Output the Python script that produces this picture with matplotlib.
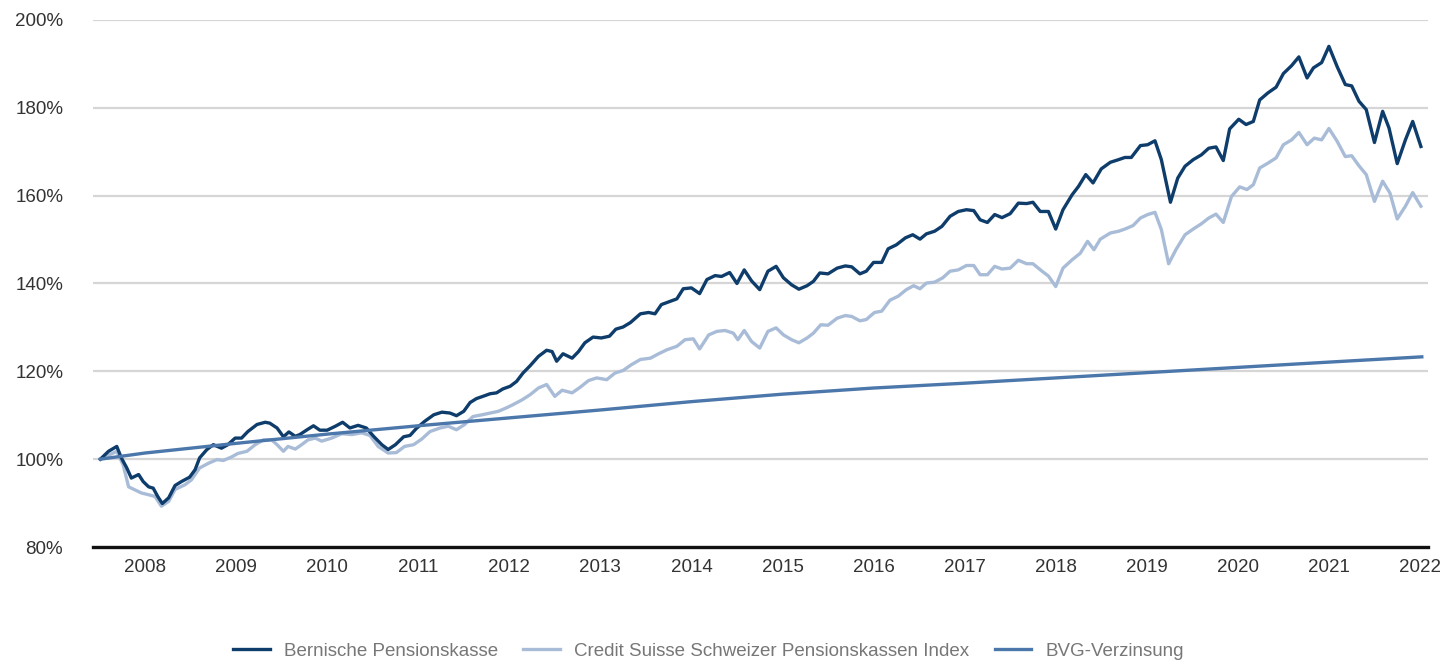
import numpy as np
import matplotlib
matplotlib.use('Agg')
import matplotlib.pyplot as plt

plt.rcParams['font.family'] = ['Liberation Sans', 'DejaVu Sans']

# time axis in fractional years (tick "2008" sits at 2008.0)
bpk_t = [2007.51, 2007.60, 2007.69, 2007.74, 2007.80, 2007.85, 2007.93, 2007.98, 2008.04, 2008.09,
         2008.14, 2008.19, 2008.26, 2008.33, 2008.40, 2008.49, 2008.55, 2008.60, 2008.68, 2008.75,
         2008.84, 2008.91, 2008.99, 2009.06, 2009.13, 2009.23, 2009.32, 2009.37, 2009.45, 2009.52,
         2009.58, 2009.65, 2009.70, 2009.78, 2009.85, 2009.92, 2010.00, 2010.09, 2010.17, 2010.25,
         2010.34, 2010.43, 2010.51, 2010.60, 2010.67, 2010.75, 2010.84, 2010.91, 2010.98, 2011.07,
         2011.17, 2011.26, 2011.35, 2011.42, 2011.50, 2011.57, 2011.64, 2011.71, 2011.79, 2011.86,
         2011.93, 2012.01, 2012.08, 2012.15, 2012.23, 2012.32, 2012.41, 2012.47, 2012.52, 2012.59,
         2012.69, 2012.76, 2012.83, 2012.92, 2013.01, 2013.10, 2013.17, 2013.25, 2013.33, 2013.44,
         2013.53, 2013.60, 2013.67, 2013.76, 2013.84, 2013.91, 2014.00, 2014.09, 2014.17, 2014.26,
         2014.33, 2014.42, 2014.50, 2014.58, 2014.66, 2014.75, 2014.84, 2014.93, 2015.01, 2015.10,
         2015.18, 2015.27, 2015.34, 2015.41, 2015.50, 2015.60, 2015.69, 2015.76, 2015.85, 2015.92,
         2016.00, 2016.09, 2016.16, 2016.25, 2016.35, 2016.43, 2016.51, 2016.58, 2016.67, 2016.75,
         2016.84, 2016.93, 2017.02, 2017.10, 2017.17, 2017.25, 2017.33, 2017.41, 2017.50, 2017.59,
         2017.68, 2017.75, 2017.83, 2017.92, 2018.00, 2018.08, 2018.18, 2018.25, 2018.33, 2018.41,
         2018.50, 2018.60, 2018.69, 2018.76, 2018.83, 2018.93, 2019.01, 2019.09, 2019.16, 2019.26,
         2019.34, 2019.42, 2019.51, 2019.60, 2019.68, 2019.76, 2019.84, 2019.91, 2020.01, 2020.09,
         2020.17, 2020.24, 2020.33, 2020.42, 2020.50, 2020.59, 2020.67, 2020.76, 2020.83, 2020.92,
         2021.00, 2021.09, 2021.18, 2021.25, 2021.33, 2021.41, 2021.50, 2021.59, 2021.66, 2021.75,
         2021.84, 2021.92, 2022.01]
bpk = [100.0, 101.8, 102.9, 100.3, 98.0, 95.7, 96.5, 94.9, 93.7, 93.4,
       91.5, 89.9, 91.2, 94.0, 94.9, 95.9, 97.6, 100.3, 102.2, 103.3,
       102.5, 103.3, 104.8, 104.8, 106.3, 107.9, 108.4, 108.2, 107.1, 105.1,
       106.2, 105.2, 105.6, 106.7, 107.6, 106.6, 106.6, 107.5, 108.4, 107.1,
       107.7, 107.1, 105.2, 103.3, 102.2, 103.3, 105.1, 105.4, 107.0, 108.6,
       110.1, 110.7, 110.5, 109.9, 110.9, 112.9, 113.8, 114.3, 114.9, 115.1,
       116.0, 116.6, 117.7, 119.6, 121.3, 123.4, 124.8, 124.5, 122.3, 124.0,
       123.0, 124.5, 126.5, 127.8, 127.6, 128.0, 129.6, 130.1, 131.1, 133.1,
       133.4, 133.1, 135.2, 135.9, 136.5, 138.8, 139.0, 137.7, 140.9, 141.8,
       141.6, 142.5, 140.0, 143.1, 140.6, 138.6, 142.8, 143.9, 141.3, 139.7,
       138.7, 139.5, 140.5, 142.4, 142.2, 143.5, 144.0, 143.8, 142.2, 142.8,
       144.8, 144.8, 147.9, 148.8, 150.4, 151.1, 150.1, 151.3, 151.9, 153.0,
       155.3, 156.4, 156.8, 156.6, 154.5, 153.9, 155.7, 155.0, 155.9, 158.3,
       158.2, 158.5, 156.4, 156.4, 152.4, 156.8, 160.2, 162.1, 164.8, 162.9,
       166.1, 167.6, 168.2, 168.7, 168.7, 171.4, 171.6, 172.5, 168.2, 158.5,
       164.0, 166.7, 168.2, 169.3, 170.8, 171.1, 168.0, 175.2, 177.4, 176.2,
       176.9, 181.8, 183.4, 184.7, 187.8, 189.6, 191.6, 186.8, 189.1, 190.3,
       194.0, 189.4, 185.3, 185.0, 181.5, 179.6, 172.1, 179.2, 175.4, 167.3,
       172.7, 176.9, 171.2]

cs_t = [2007.51, 2007.69, 2007.76, 2007.82, 2007.89, 2007.96, 2008.04, 2008.11, 2008.18, 2008.26,
        2008.33, 2008.44, 2008.51, 2008.60, 2008.70, 2008.79, 2008.86, 2008.95, 2009.02, 2009.12,
        2009.21, 2009.30, 2009.39, 2009.45, 2009.52, 2009.57, 2009.65, 2009.72, 2009.79, 2009.87,
        2009.94, 2010.05, 2010.16, 2010.27, 2010.38, 2010.47, 2010.56, 2010.67, 2010.76, 2010.85,
        2010.95, 2011.04, 2011.13, 2011.24, 2011.33, 2011.42, 2011.51, 2011.60, 2011.70, 2011.79,
        2011.88, 2011.97, 2012.04, 2012.14, 2012.23, 2012.32, 2012.41, 2012.50, 2012.58, 2012.69,
        2012.78, 2012.87, 2012.96, 2013.07, 2013.16, 2013.25, 2013.34, 2013.44, 2013.55, 2013.64,
        2013.73, 2013.84, 2013.93, 2014.02, 2014.09, 2014.19, 2014.28, 2014.37, 2014.46, 2014.51,
        2014.58, 2014.66, 2014.75, 2014.84, 2014.93, 2015.01, 2015.10, 2015.18, 2015.27, 2015.34,
        2015.42, 2015.50, 2015.60, 2015.69, 2015.76, 2015.85, 2015.92, 2016.01, 2016.09, 2016.18,
        2016.27, 2016.36, 2016.44, 2016.51, 2016.58, 2016.67, 2016.76, 2016.84, 2016.93, 2017.02,
        2017.10, 2017.17, 2017.25, 2017.33, 2017.41, 2017.50, 2017.59, 2017.68, 2017.75, 2017.85,
        2017.92, 2018.00, 2018.08, 2018.18, 2018.27, 2018.35, 2018.42, 2018.49, 2018.60, 2018.69,
        2018.76, 2018.85, 2018.93, 2019.01, 2019.09, 2019.16, 2019.24, 2019.32, 2019.42, 2019.51,
        2019.60, 2019.68, 2019.76, 2019.84, 2019.93, 2020.02, 2020.10, 2020.17, 2020.24, 2020.33,
        2020.42, 2020.50, 2020.59, 2020.67, 2020.76, 2020.84, 2020.92, 2021.00, 2021.09, 2021.18,
        2021.25, 2021.33, 2021.41, 2021.50, 2021.59, 2021.67, 2021.75, 2021.84, 2021.92, 2022.01]
cs = [100.0, 101.8, 98.7, 93.7, 93.0, 92.3, 91.9, 91.5, 89.3, 90.4,
      93.1, 94.2, 95.3, 98.0, 99.1, 99.9, 99.7, 100.5, 101.3, 101.8,
      103.3, 104.4, 104.4, 103.3, 101.8, 102.9, 102.3, 103.3, 104.4, 104.8,
      104.1, 104.8, 105.8, 105.6, 106.0, 105.4, 102.9, 101.4, 101.5, 102.9,
      103.3, 104.6, 106.3, 107.1, 107.5, 106.7, 107.9, 109.7, 110.1, 110.5,
      110.9, 111.7, 112.4, 113.5, 114.7, 116.2, 117.0, 114.3, 115.7, 115.1,
      116.4, 117.9, 118.5, 118.1, 119.6, 120.2, 121.5, 122.7, 123.0, 124.0,
      124.9, 125.7, 127.2, 127.4, 125.1, 128.3, 129.1, 129.3, 128.7, 127.2,
      129.3, 126.8, 125.3, 129.1, 129.9, 128.3, 127.2, 126.5, 127.6, 128.7,
      130.6, 130.5, 132.1, 132.7, 132.5, 131.5, 131.8, 133.4, 133.7, 136.2,
      137.1, 138.6, 139.5, 138.8, 140.1, 140.3, 141.3, 142.8, 143.1, 144.1,
      144.1, 142.0, 142.0, 143.9, 143.3, 143.5, 145.3, 144.5, 144.5, 142.8,
      141.7, 139.3, 143.5, 145.4, 146.9, 149.6, 147.7, 150.1, 151.5, 151.9,
      152.4, 153.2, 154.9, 155.7, 156.2, 152.3, 144.5, 147.7, 151.1, 152.4,
      153.6, 154.9, 155.8, 153.9, 159.8, 162.0, 161.4, 162.5, 166.3, 167.4,
      168.6, 171.6, 172.7, 174.4, 171.6, 173.1, 172.7, 175.3, 172.4, 168.9,
      169.1, 166.8, 164.8, 158.7, 163.3, 160.6, 154.7, 157.6, 160.7, 157.6]

bvg_t = [2007.51, 2008.0, 2009.0, 2010.0, 2011.0, 2012.0, 2013.0, 2014.0, 2015.0,
         2016.0, 2017.0, 2018.0, 2019.0, 2020.0, 2021.0, 2022.02]
bvg = [100.0, 101.4, 103.6, 105.7, 107.6, 109.4, 111.2, 113.1, 114.8,
       116.2, 117.3, 118.5, 119.7, 120.9, 122.1, 123.3]

years = list(range(2008, 2023))
y_ticks = [80, 100, 120, 140, 160, 180, 200]

labels = ['Bernische Pensionskasse',
          'Credit Suisse Schweizer Pensionskassen Index',
          'BVG-Verzinsung']
c_bpk = '#0e3c6b'
c_cs = '#a9bcd7'
c_bvg = '#4c77ab'

fig = plt.figure(figsize=(14.49, 6.64), dpi=100)
ax = fig.add_axes([93 / 1449, 1 - 547 / 664, (1428 - 93) / 1449, 527 / 664])

ax.plot(cs_t, cs, color=c_cs, lw=2.4, label=labels[1], zorder=3)
ax.plot(bpk_t, bpk, color=c_bpk, lw=2.4, label=labels[0], zorder=4)
ax.plot(bvg_t, bvg, color=c_bvg, lw=2.4, label=labels[2], zorder=5)

ax.set_xlim(2007.429, 2022.088)
ax.set_ylim(80, 200)
ax.set_yticks(y_ticks)
ax.set_yticklabels([f'{v}%' for v in y_ticks])
ax.set_xticks(years)
ax.set_xticklabels([str(y) for y in years])

for v in y_ticks[1:]:
    ax.axhline(v, color='#d6d6d6', lw=1.6, zorder=1)

for s in ['top', 'right', 'left']:
    ax.spines[s].set_visible(False)
ax.spines['bottom'].set_linewidth(2.4)
ax.spines['bottom'].set_color('#111111')
ax.spines['bottom'].set_zorder(6)

ax.tick_params(axis='both', length=0, labelsize=13.5, colors='#333333')
ax.tick_params(axis='y', pad=21.5)
ax.tick_params(axis='x', pad=9)

handles, labs = ax.get_legend_handles_labels()
order = [labs.index(l) for l in labels]
leg = fig.legend([handles[i] for i in order], [labs[i] for i in order],
                 loc='center', bbox_to_anchor=(0.489, 1 - 651 / 664), ncol=3,
                 frameon=False, fontsize=13.5, handlelength=1.95,
                 columnspacing=1.35, handletextpad=0.75)
for t in leg.get_texts():
    t.set_color('#777777')

fig.savefig('out.png', dpi=100)
